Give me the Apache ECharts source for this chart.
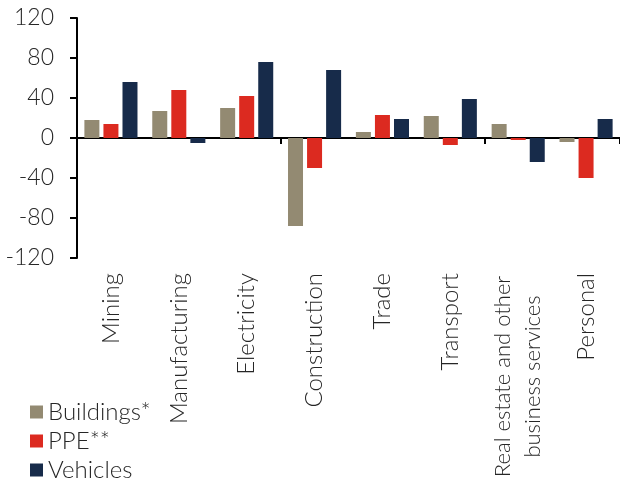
<!DOCTYPE html>
<html>
<head>
<meta charset="utf-8">
<script src="https://cdn.jsdelivr.net/npm/echarts@6/dist/echarts.min.js"></script>
<style>
  html, body { margin: 0; padding: 0; background: #fff; }
  #main { width: 620px; height: 484px; }
</style>
</head>
<body>
<div id="main"></div>
<script>
// 行业分类
const categories = ["Mining", "Manufacturing", "Electricity", "Construction", "Trade", "Transport", "Real estate and other\nbusiness services", "Personal"];
// 三个系列
const buildings = [18, 27, 30, -88, 6, 22, 14, -4];
const ppe = [14, 48, 42, -30, 23, -7, -2, -40];
const vehicles = [56, -5, 76, 68, 19, 39, -24, 19];
const yTicks = { min: -120, max: 120, step: 40 };

const FONT = "Lato";
const TXT = "#262626";
const FS = 24;

function barSeries(name, data, color) {
  return {
    name: name,
    type: "bar",
    xAxisIndex: 0,
    data: data,
    barWidth: 15,
    barGap: "27%",
    itemStyle: { color: color },
  };
}

let myChart = echarts.init(document.getElementById("main"));
let option = {
  backgroundColor: "#fff",
  animation: false,
  textStyle: { fontFamily: FONT, color: TXT },
  grid: { left: 77, right: 0, top: 18, bottom: 226, outerBoundsMode: "none", containLabel: false },
  legend: {
    orient: "vertical",
    left: 30,
    top: 400,
    height: 120,
    padding: 0,
    itemWidth: 13,
    itemHeight: 13,
    itemGap: 5,
    icon: "rect",
    textStyle: { fontFamily: FONT, fontWeight: 300, fontSize: FS, color: TXT },
    data: ["Buildings*", "PPE**", "Vehicles"],
  },
  xAxis: [
    {
      // 零线 + 刻度
      type: "category",
      data: categories,
      axisLine: { onZero: true, lineStyle: { color: "#000", width: 2 } },
      axisTick: { show: true, length: 6, lineStyle: { color: "#000", width: 2 } },
      axisLabel: { show: false },
      splitLine: { show: false },
    },
    {
      // 底部文字
      type: "category",
      position: "bottom",
      data: categories,
      axisLine: { show: false, onZero: false },
      axisTick: { show: false },
      axisLabel: {
        interval: 0,
        rotate: 90,
        margin: 15,
        fontFamily: FONT,
        fontWeight: 300,
        fontSize: FS,
        color: TXT,
        formatter: function (v) {
          if (v.indexOf("\n") >= 0) {
            return v.split("\n").map(function (s) { return "{c|" + s + "}"; }).join("\n");
          }
          return v;
        },
        rich: {
          c: { width: 207, align: "center", fontFamily: FONT, fontWeight: 300, fontSize: 22, color: TXT, lineHeight: 30 },
        },
      },
    },
  ],
  yAxis: {
    type: "value",
    min: yTicks.min,
    max: yTicks.max,
    interval: yTicks.step,
    splitLine: { show: false },
    axisLine: { show: true, lineStyle: { color: "#000", width: 2 } },
    axisTick: { show: true, length: 7, lineStyle: { color: "#000", width: 2 } },
    axisLabel: { margin: 23, fontFamily: FONT, fontWeight: 300, fontSize: 23, color: TXT },
  },
  series: [
    barSeries("Buildings*", buildings, "#938a72"),
    barSeries("PPE**", ppe, "#dc2a20"),
    barSeries("Vehicles", vehicles, "#172b4a"),
  ],
};
myChart.setOption(option);
</script>
</body>
</html>
